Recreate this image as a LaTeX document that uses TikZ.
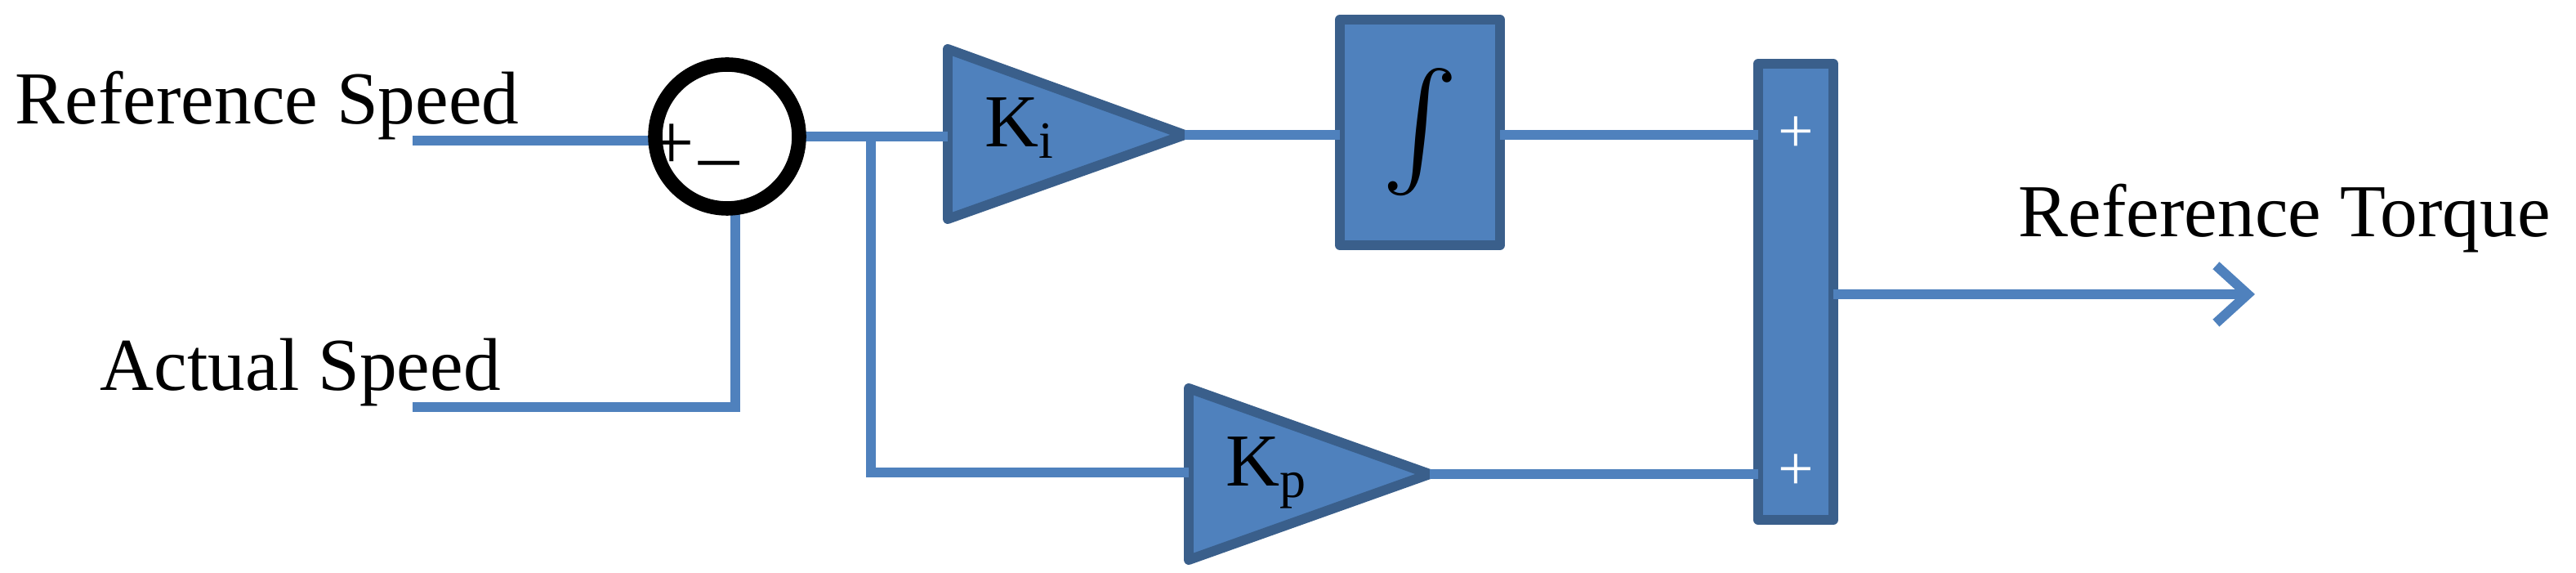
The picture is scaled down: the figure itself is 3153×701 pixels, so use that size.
\documentclass[tikz,border=0pt]{standalone}
\usepackage{fontspec}
\setmainfont{Liberation Serif}
\usetikzlibrary{arrows.meta}
\begin{document}
\begin{tikzpicture}[x=0.01cm,y=-0.01cm,
  wire/.style={draw=lb,line width=3.4pt},
  blk/.style={fill=lb,draw=db,line width=3.4pt,line join=round},
  lbl/.style={font=\fontsize{26}{30}\selectfont,inner sep=0pt,anchor=base west}]
\definecolor{lb}{HTML}{4F81BD}
\definecolor{db}{HTML}{3A5F8B}
\useasboundingbox (0,0) rectangle (3153,701);
% blocks
\draw[blk] (1160,60) -- (1450,165) -- (1160,268) -- cycle;
\node[lbl] (ki) at (1205,180) {K\textsubscript{i}};
\draw[blk] (1455,475) -- (1750,580) -- (1455,685) -- cycle;
\node[lbl] (kp) at (1500,595) {K\textsubscript{p}};
\draw[blk] (1640,24) rectangle (1836,300);
\node[scale=4] (int) at (1738,162) {$\int$};
\draw[blk] (2152,78) rectangle (2244,636);
\node[text=white,font=\fontsize{22}{24}\selectfont] (p1) at (2198,165) {+};
\node[text=white,font=\fontsize{22}{24}\selectfont] (p2) at (2198,578) {+};
% wires
\coordinate (rs) at (505,172);
\coordinate (as) at (505,498);
\coordinate (br) at (1066,167);
\draw[wire] (rs) -- (800,172);
\draw[wire] (as) -- (900,498) -- (900,255);
\draw[wire] (980,167) -- (1160,167);
\draw[wire] (br) -- (1066,578) -- (1455,578);
\draw[wire] (1450,165) -- (1640,165);
\draw[wire] (1836,165) -- (2152,165);
\draw[wire] (1750,580) -- (2152,580);
\coordinate (out) at (2760,360);
\draw[wire,-{Straight Barb[length=11pt,width=20pt]}] (2244,360) -- (out);
% summer
\draw[line width=5pt] (890,167) ellipse [x radius=88,y radius=88];
\node[font=\fontsize{28}{30}\selectfont,inner sep=0pt] (pl) at (822,180) {+};
\node[font=\fontsize{28}{30}\selectfont,inner sep=0pt] (mi) at (880,196) {\_};
% labels
\node[lbl] at (18,152) {Reference Speed};
\node[lbl] at (122,478) {Actual Speed};
\node[lbl] at (2470,290) {Reference Torque};
\end{tikzpicture}
\end{document}
